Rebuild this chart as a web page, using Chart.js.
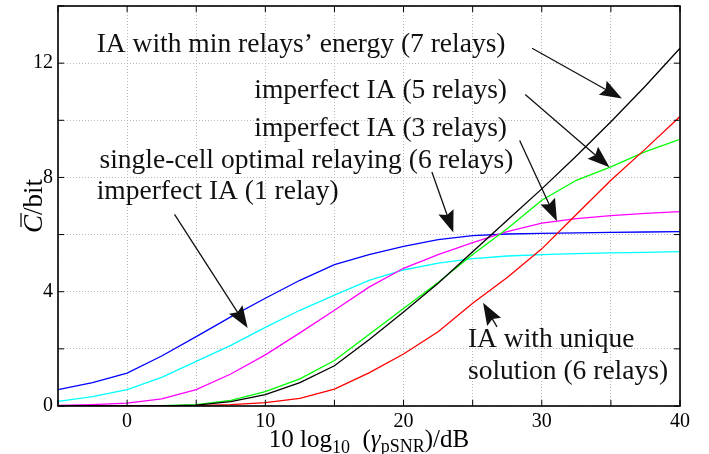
<!DOCTYPE html>
<html>
<head>
<meta charset="utf-8">
<script src="https://cdn.jsdelivr.net/npm/chart.js@4/dist/chart.umd.min.js"></script>
<style>
  html, body { margin: 0; padding: 0; background: #fff; }
  #wrap { width: 709px; height: 454px; }
</style>
</head>
<body>
<div id="wrap"><canvas id="c" width="709" height="454"></canvas></div>
<script>
// SNR grid (dB)
const snrDb = [-5, -2.5, 0, 2.5, 5, 7.5, 10, 12.5, 15, 17.5, 20, 22.5, 25, 27.5, 30, 32.5, 35, 37.5, 40];

// average capacity per curve (bit)
const minEnergy7  = [0, 0, 0, 0.005, 0.03, 0.15, 0.4, 0.82, 1.41, 2.32, 3.29, 4.3, 5.4, 6.5, 7.6, 8.75, 9.95, 11.2, 12.52];
const unique6     = [0, 0, 0, 0, 0.01, 0.05, 0.12, 0.27, 0.59, 1.16, 1.82, 2.6, 3.6, 4.5, 5.5, 6.7, 7.9, 9.0, 10.13];
const imperfect5  = [0, 0, 0, 0.01, 0.05, 0.2, 0.5, 0.95, 1.59, 2.5, 3.41, 4.32, 5.3, 6.2, 7.2, 7.9, 8.37, 8.9, 9.33];
const imperfect3  = [0.02, 0.05, 0.1, 0.25, 0.57, 1.12, 1.79, 2.56, 3.35, 4.16, 4.82, 5.3, 5.72, 6.1, 6.4, 6.56, 6.66, 6.74, 6.8];
const singleCell6 = [0.57, 0.82, 1.15, 1.75, 2.43, 3.12, 3.77, 4.4, 4.95, 5.3, 5.59, 5.82, 5.96, 6.02, 6.04, 6.06, 6.08, 6.09, 6.1];
const imperfect1  = [0.16, 0.33, 0.57, 1.0, 1.56, 2.12, 2.75, 3.35, 3.88, 4.4, 4.76, 5.0, 5.16, 5.25, 5.3, 5.33, 5.36, 5.38, 5.4];

const seriesNames = [
  'IA with min relays’ energy (7 relays)',
  'IA with unique solution (6 relays)',
  'imperfect IA (5 relays)',
  'imperfect IA (3 relays)',
  'single-cell optimal relaying (6 relays)',
  'imperfect IA (1 relay)'
];
const seriesValues = [minEnergy7, unique6, imperfect5, imperfect3, singleCell6, imperfect1];
const seriesColors = ['#000000', '#ff0000', '#00ff00', '#ff00ff', '#0000ff', '#00ffff'];

// tick labels shown (others stay blank)
const xTickLabels = [0, 10, 20, 30, 40];
const yTickLabels = [0, 4, 8, 12];

const SERIF = "'Liberation Serif', 'Times New Roman', serif";

// annotation texts, left edge / middle, in data units
const notes = [
  { text: 'IA with min relays’ energy (7 relays)', x: -2.2, y: 12.63 },
  { text: 'imperfect IA (5 relays)', x: 9.2, y: 11.05 },
  { text: 'imperfect IA (3 relays)', x: 9.2, y: 9.71 },
  { text: 'single-cell optimal relaying (6 relays)', x: -2.0, y: 8.58 },
  { text: 'imperfect IA (1 relay)', x: -2.2, y: 7.49 },
  { text: 'IA with unique', x: 24.66, y: 2.31 },
  { text: 'solution (6 relays)', x: 24.66, y: 1.19 }
];
const arrows = [
  { from: [29.3, 12.52], to: [35.8, 10.76] },
  { from: [28.8, 10.9], to: [34.9, 8.36] },
  { from: [28.4, 9.29], to: [31.1, 6.47] },
  { from: [22.05, 8.19], to: [23.6, 6.07] },
  { from: [3.43, 6.71], to: [8.72, 2.73] },
  { from: [26.76, 2.77], to: [25.75, 3.61] }
];

function drawArrow(ctx, x1, y1, x2, y2) {
  const a = Math.atan2(y2 - y1, x2 - x1);
  const c = Math.cos(a), s = Math.sin(a);
  const len = 22, half = 8;
  ctx.beginPath();
  ctx.moveTo(x1, y1);
  ctx.lineTo(x2 - c * len * 0.8, y2 - s * len * 0.8);
  ctx.stroke();
  ctx.beginPath();
  ctx.moveTo(x2, y2);
  ctx.lineTo(x2 - c * len + s * half, y2 - s * len - c * half);
  ctx.lineTo(x2 - c * len * 0.85, y2 - s * len * 0.85);
  ctx.lineTo(x2 - c * len - s * half, y2 - s * len + c * half);
  ctx.closePath();
  ctx.fill();
}

const framePlugin = {
  id: 'frame',
  afterDraw(chart) {
    const ctx = chart.ctx;
    const { left, right, top, bottom } = chart.chartArea;
    const xs = chart.scales.x, ys = chart.scales.y;
    ctx.save();
    ctx.strokeStyle = '#000';
    ctx.lineWidth = 1;
    // inward tick marks on all four sides
    xs.ticks.forEach(t => {
      const px = xs.getPixelForValue(t.value);
      ctx.beginPath();
      ctx.moveTo(px, bottom); ctx.lineTo(px, bottom - 6);
      ctx.moveTo(px, top); ctx.lineTo(px, top + 6);
      ctx.stroke();
    });
    ys.ticks.forEach(t => {
      const py = ys.getPixelForValue(t.value);
      ctx.beginPath();
      ctx.moveTo(left, py); ctx.lineTo(left + 6, py);
      ctx.moveTo(right, py); ctx.lineTo(right - 6, py);
      ctx.stroke();
    });
    ctx.lineWidth = 1.6;
    ctx.strokeRect(left, top, right - left, bottom - top);

    // annotations
    ctx.fillStyle = '#111';
    ctx.strokeStyle = '#111';
    ctx.lineWidth = 1.3;
    ctx.font = `27.5px ${SERIF}`;
    ctx.textAlign = 'left';
    ctx.textBaseline = 'middle';
    notes.forEach(n => {
      ctx.fillText(n.text, xs.getPixelForValue(n.x), ys.getPixelForValue(n.y));
    });
    arrows.forEach(a => {
      drawArrow(ctx,
        xs.getPixelForValue(a.from[0]), ys.getPixelForValue(a.from[1]),
        xs.getPixelForValue(a.to[0]), ys.getPixelForValue(a.to[1]));
    });

    // x title: 10 log10 (γ_pSNR)/dB
    const main = `25px ${SERIF}`, sub = `18px ${SERIF}`, ital = `italic 25px ${SERIF}`;
    const parts = [
      { t: '10 log', f: main, dy: 0 },
      { t: '10', f: sub, dy: 6 },
      { t: '\u2002(', f: main, dy: 0 },
      { t: 'γ', f: ital, dy: 0 },
      { t: 'pSNR', f: sub, dy: 5 },
      { t: ')/dB', f: main, dy: 0 }
    ];
    ctx.textBaseline = 'alphabetic';
    ctx.fillStyle = '#000';
    let total = 0;
    parts.forEach(p => { ctx.font = p.f; p.w = ctx.measureText(p.t).width; total += p.w; });
    let cx = (left + right) / 2 - total / 2;
    parts.forEach(p => {
      ctx.font = p.f;
      ctx.fillText(p.t, cx, 447 + p.dy);
      cx += p.w;
    });

    // y title: C̄/bit, rotated
    ctx.save();
    ctx.translate(42, (top + bottom) / 2);
    ctx.rotate(-Math.PI / 2);
    ctx.font = `italic 27px ${SERIF}`;
    const wc = ctx.measureText('C').width;
    ctx.font = `27px ${SERIF}`;
    const wb = ctx.measureText('/bit').width;
    const x0 = -(wc + wb) / 2;
    ctx.font = `italic 27px ${SERIF}`;
    ctx.fillText('C', x0, 0);
    ctx.lineWidth = 1.3;
    ctx.beginPath();
    ctx.moveTo(x0 + 6, -21);
    ctx.lineTo(x0 + wc + 2, -21);
    ctx.stroke();
    ctx.font = `27px ${SERIF}`;
    ctx.fillText('/bit', x0 + wc, 0);
    ctx.restore();

    ctx.restore();
  }
};

const datasets = seriesNames.map((name, i) => ({
  label: name,
  data: snrDb.map((x, j) => ({ x: x, y: seriesValues[i][j] })),
  borderColor: seriesColors[i],
  backgroundColor: seriesColors[i],
  borderWidth: 1.3,
  pointRadius: 0,
  tension: 0,
  fill: false
}));

new Chart(document.getElementById('c'), {
  type: 'line',
  data: { datasets },
  options: {
    responsive: false,
    animation: false,
    layout: { padding: { left: 0, right: 29, top: 6, bottom: 0 } },
    scales: {
      x: {
        type: 'linear',
        min: -5,
        max: 40,
        afterFit: (s) => { s.height = 48; s.paddingLeft = 0; s.paddingRight = 0; },
        ticks: {
          stepSize: 5,
          autoSkip: false,
          maxRotation: 0,
          padding: 4,
          color: '#000',
          font: { family: SERIF, size: 20 },
          callback: (v) => xTickLabels.includes(v) ? String(v) : ''
        },
        grid: { color: '#b8b8b8', lineWidth: 1, drawTicks: false },
        border: { display: false, dash: [1, 2] }
      },
      y: {
        min: 0,
        max: 14,
        afterFit: (s) => { s.width = 58; s.paddingTop = 0; s.paddingBottom = 0; },
        ticks: {
          stepSize: 2,
          autoSkip: false,
          padding: 5,
          color: '#000',
          font: { family: SERIF, size: 20 },
          callback: (v) => yTickLabels.includes(v) ? String(v) : ''
        },
        grid: { color: '#b8b8b8', lineWidth: 1, drawTicks: false },
        border: { display: false, dash: [1, 2] }
      }
    },
    plugins: {
      legend: { display: false },
      tooltip: { enabled: false }
    }
  },
  plugins: [framePlugin]
});
</script>
</body>
</html>
